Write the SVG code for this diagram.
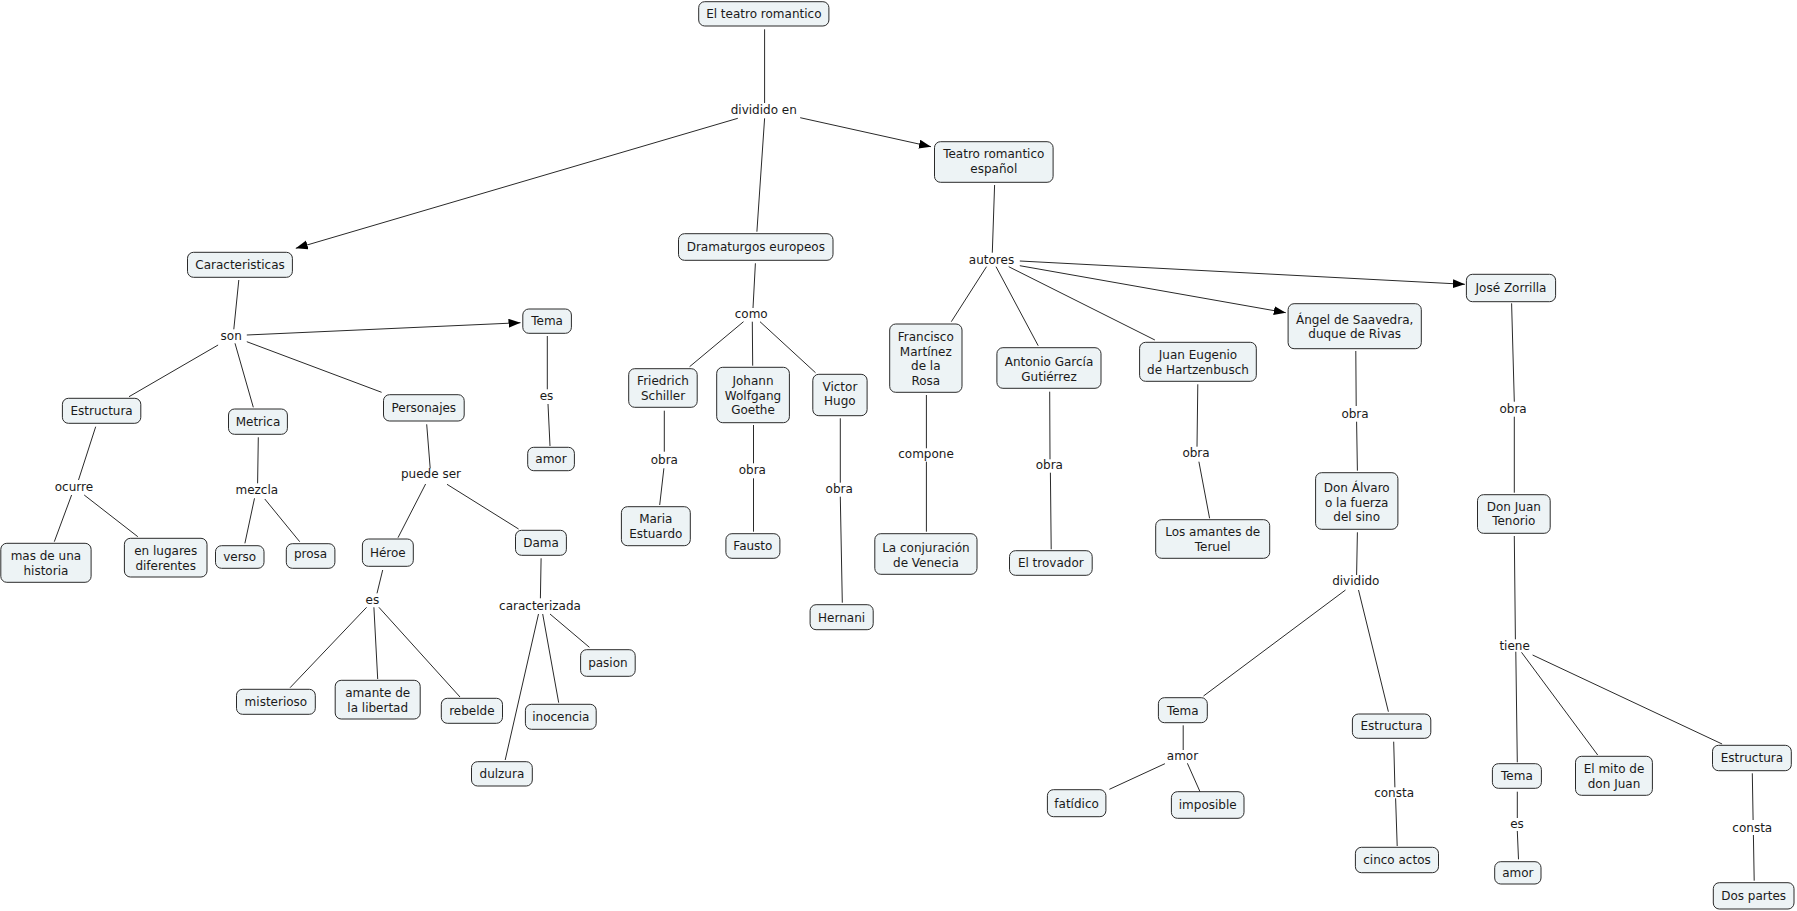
<svg xmlns="http://www.w3.org/2000/svg" width="1797" height="911" viewBox="0 0 1797 911">
<style>
.n rect{fill:#EDF3F5;stroke:#2a2a2a;stroke-width:1}
text{font-family:"DejaVu Sans","Liberation Sans",sans-serif;font-size:12px;fill:#1a1a1a;text-anchor:middle}
.c line{stroke:#2a2a2a;stroke-width:1}
</style>
<defs>
<marker id="ah" markerUnits="userSpaceOnUse" markerWidth="13" markerHeight="10" refX="12" refY="4.5" orient="auto"><path d="M0,0 L12,4.5 L0,9 z" fill="#000"/></marker>
</defs>
<rect width="1797" height="911" fill="#fff"/>
<g class="c" id="connectors">
<line x1="764.6" y1="29.3" x2="764.6" y2="103"/>
<line x1="737.8" y1="118.3" x2="295.8" y2="248.3" marker-end="url(#ah)"/>
<line x1="764.6" y1="118.3" x2="756.9" y2="231.7"/>
<line x1="800.2" y1="117.7" x2="931" y2="146.7" marker-end="url(#ah)"/>
<line x1="994.6" y1="185" x2="992.3" y2="252.7"/>
<line x1="1019.8" y1="261" x2="1464.9" y2="284.3" marker-end="url(#ah)"/>
<line x1="1019.8" y1="265.7" x2="1285.8" y2="312.7" marker-end="url(#ah)"/>
<line x1="986.5" y1="266.7" x2="951.3" y2="321.7"/>
<line x1="996" y1="266.7" x2="1038.2" y2="345.7"/>
<line x1="1008.7" y1="266.7" x2="1154.9" y2="340"/>
<line x1="238.8" y1="280" x2="233.8" y2="329.3"/>
<line x1="246.8" y1="335" x2="520.5" y2="322.7" marker-end="url(#ah)"/>
<line x1="218.1" y1="345" x2="129" y2="396.7"/>
<line x1="235" y1="343.3" x2="253.3" y2="407.3"/>
<line x1="246.8" y1="341.7" x2="381.6" y2="392.3"/>
<line x1="547.3" y1="336" x2="547.3" y2="389.3"/>
<line x1="548" y1="404" x2="550" y2="446"/>
<line x1="95.7" y1="426.7" x2="78.5" y2="480"/>
<line x1="71.6" y1="495" x2="54.3" y2="541.7"/>
<line x1="84.2" y1="495" x2="137.8" y2="536.7"/>
<line x1="258.3" y1="437.3" x2="257.6" y2="483.3"/>
<line x1="254.5" y1="498.3" x2="244.9" y2="543.3"/>
<line x1="264.8" y1="499" x2="299.7" y2="541.7"/>
<line x1="426.7" y1="424.3" x2="430.2" y2="468.3"/>
<line x1="425.6" y1="484" x2="398" y2="537.7"/>
<line x1="447" y1="484.3" x2="518.6" y2="529"/>
<line x1="382.7" y1="570" x2="377" y2="593.3"/>
<line x1="366.6" y1="607.3" x2="290.1" y2="687.7"/>
<line x1="373.9" y1="607.3" x2="377.7" y2="679"/>
<line x1="378.9" y1="607.3" x2="460" y2="697"/>
<line x1="541.1" y1="558.3" x2="540.4" y2="598.3"/>
<line x1="538.5" y1="614" x2="505.2" y2="760"/>
<line x1="542.7" y1="614" x2="558.7" y2="702.7"/>
<line x1="550" y1="614" x2="589.4" y2="647.3"/>
<line x1="755.4" y1="263.3" x2="753" y2="308"/>
<line x1="743.5" y1="321.7" x2="689.6" y2="366.7"/>
<line x1="752.3" y1="321.7" x2="752.7" y2="365.7"/>
<line x1="760" y1="321.7" x2="815.5" y2="372.7"/>
<line x1="664.3" y1="410.7" x2="664.3" y2="451.7"/>
<line x1="663.9" y1="468.3" x2="659.7" y2="505"/>
<line x1="753.5" y1="425" x2="753.5" y2="463.3"/>
<line x1="753.5" y1="478.3" x2="753.5" y2="531.7"/>
<line x1="840.3" y1="418.3" x2="840.3" y2="482.7"/>
<line x1="840.3" y1="496.7" x2="842.3" y2="602.7"/>
<line x1="926.4" y1="395" x2="926.4" y2="448.3"/>
<line x1="926.4" y1="461.7" x2="926.4" y2="531.7"/>
<line x1="1049.7" y1="391.7" x2="1050" y2="459.3"/>
<line x1="1050.4" y1="472.7" x2="1051.2" y2="549.3"/>
<line x1="1197.8" y1="384.3" x2="1197" y2="446.7"/>
<line x1="1198.9" y1="461.7" x2="1209.6" y2="518.3"/>
<line x1="1355.8" y1="351" x2="1356.2" y2="406"/>
<line x1="1356.6" y1="421.7" x2="1357.4" y2="470.7"/>
<line x1="1357.4" y1="532.3" x2="1356.6" y2="575"/>
<line x1="1345.5" y1="590" x2="1203.5" y2="696"/>
<line x1="1358.5" y1="590" x2="1388.4" y2="711.7"/>
<line x1="1183.2" y1="725.3" x2="1183.2" y2="750"/>
<line x1="1164.9" y1="763.7" x2="1109.4" y2="789.3"/>
<line x1="1187.4" y1="763.3" x2="1200" y2="791.7"/>
<line x1="1393.7" y1="741.7" x2="1394.9" y2="787.3"/>
<line x1="1395.6" y1="798.3" x2="1397.2" y2="846"/>
<line x1="1511.6" y1="303.3" x2="1514.3" y2="401.7"/>
<line x1="1514.3" y1="416.7" x2="1514.3" y2="492.7"/>
<line x1="1514.3" y1="536" x2="1515.4" y2="639.3"/>
<line x1="1515.8" y1="651.7" x2="1517.3" y2="762.3"/>
<line x1="1521.5" y1="652.3" x2="1597.7" y2="755"/>
<line x1="1532.6" y1="655" x2="1722.1" y2="744"/>
<line x1="1517.3" y1="791.7" x2="1517.3" y2="818"/>
<line x1="1517.3" y1="831" x2="1518.5" y2="859.3"/>
<line x1="1752.3" y1="773.3" x2="1753.1" y2="820"/>
<line x1="1753.4" y1="835" x2="1754.2" y2="880.7"/>
</g>
<g id="labels">
<text x="763.8" y="114.3">dividido en</text>
<text x="231.2" y="340">son</text>
<text x="546.5" y="400">es</text>
<text x="73.9" y="491">ocurre</text>
<text x="256.8" y="494.3">mezcla</text>
<text x="431" y="478.3">puede ser</text>
<text x="372.4" y="604.3">es</text>
<text x="540" y="609.6">caracterizada</text>
<text x="751.2" y="318.3">como</text>
<text x="664.3" y="464.3">obra</text>
<text x="752.3" y="474.3">obra</text>
<text x="839.2" y="493.3">obra</text>
<text x="991.5" y="263.6">autores</text>
<text x="926" y="458.3">compone</text>
<text x="1049.3" y="469.3">obra</text>
<text x="1196" y="457.3">obra</text>
<text x="1355" y="417.6">obra</text>
<text x="1355.8" y="585.3">dividido</text>
<text x="1182.5" y="760">amor</text>
<text x="1394.1" y="797">consta</text>
<text x="1513.1" y="413.3">obra</text>
<text x="1514.6" y="650">tiene</text>
<text x="1517" y="828.3">es</text>
<text x="1752.3" y="832">consta</text>
</g>
<g class="n" id="n1"><rect x="698.7" y="1.7" width="130.2" height="24.3" rx="6"/><text x="763.8" y="18.2">El teatro romantico</text></g>
<g class="n" id="n2"><rect x="934.5" y="141.7" width="118.6" height="40.6" rx="6"/><text x="993.8" y="158.3">Teatro romantico</text><text x="993.8" y="172.6">español</text></g>
<g class="n" id="n3"><rect x="187.5" y="252.3" width="104.9" height="25" rx="6"/><text x="240" y="269.1">Caracteristicas</text></g>
<g class="n" id="n4"><rect x="678.5" y="233.7" width="154.5" height="26.6" rx="6"/><text x="755.8" y="251.3">Dramaturgos europeos</text></g>
<g class="n" id="n5"><rect x="1466.4" y="274.3" width="89.2" height="27.4" rx="6"/><text x="1511" y="292.3">José Zorrilla</text></g>
<g class="n" id="n6"><rect x="1288.1" y="303.7" width="133.2" height="45" rx="6"/><text x="1354.7" y="324.3">Ángel de Saavedra,</text><text x="1354.7" y="338.3">duque de Rivas</text></g>
<g class="n" id="n7"><rect x="522.8" y="309" width="48.6" height="24.3" rx="6"/><text x="547.1" y="325.4">Tema</text></g>
<g class="n" id="n8"><rect x="527.7" y="447.3" width="46.7" height="23.4" rx="6"/><text x="551" y="463.3">amor</text></g>
<g class="n" id="n9"><rect x="62.4" y="398.3" width="78.4" height="25" rx="6"/><text x="101.6" y="415.1">Estructura</text></g>
<g class="n" id="n10"><rect x="228.5" y="409" width="58.9" height="25.3" rx="6"/><text x="258" y="426">Metrica</text></g>
<g class="n" id="n11"><rect x="383.5" y="394.7" width="80.7" height="26.3" rx="6"/><text x="423.8" y="412">Personajes</text></g>
<g class="n" id="n12"><rect x="0.8" y="543.3" width="90.3" height="39" rx="6"/><text x="45.9" y="560.3">mas de una</text><text x="45.9" y="575">historia</text></g>
<g class="n" id="n13"><rect x="124.4" y="538.3" width="82.6" height="38.7" rx="6"/><text x="165.7" y="555">en lugares</text><text x="165.7" y="570">diferentes</text></g>
<g class="n" id="n14"><rect x="215.5" y="545.7" width="48.5" height="22.6" rx="6"/><text x="239.7" y="561.3">verso</text></g>
<g class="n" id="n15"><rect x="286.3" y="543.7" width="48.6" height="24.6" rx="6"/><text x="310.6" y="558.3">prosa</text></g>
<g class="n" id="n16"><rect x="362.4" y="539" width="50.9" height="27.3" rx="6"/><text x="387.8" y="557">Héroe</text></g>
<g class="n" id="n17"><rect x="515.5" y="530.3" width="50.9" height="25" rx="6"/><text x="541" y="547.1">Dama</text></g>
<g class="n" id="n18"><rect x="236.5" y="689.3" width="78.8" height="25" rx="6"/><text x="275.9" y="706.1">misterioso</text></g>
<g class="n" id="n19"><rect x="335.2" y="680.3" width="85" height="38.7" rx="6"/><text x="377.7" y="697">amante de</text><text x="377.7" y="711.6">la libertad</text></g>
<g class="n" id="n20"><rect x="441.3" y="698.3" width="61.2" height="25" rx="6"/><text x="471.9" y="715.1">rebelde</text></g>
<g class="n" id="n21"><rect x="580.6" y="649.7" width="54.6" height="26.6" rx="6"/><text x="607.9" y="667.3">pasion</text></g>
<g class="n" id="n22"><rect x="525.4" y="704.3" width="70.8" height="25" rx="6"/><text x="560.8" y="721.1">inocencia</text></g>
<g class="n" id="n23"><rect x="471.5" y="761.7" width="60.8" height="24.3" rx="6"/><text x="501.9" y="778.1">dulzura</text></g>
<g class="n" id="n24"><rect x="628.7" y="368.7" width="68.5" height="38.6" rx="6"/><text x="663" y="385.3">Friedrich</text><text x="663" y="400">Schiller</text></g>
<g class="n" id="n25"><rect x="716.7" y="367.3" width="72.7" height="55.4" rx="6"/><text x="753" y="385.3">Johann</text><text x="753" y="400">Wolfgang</text><text x="753" y="414.3">Goethe</text></g>
<g class="n" id="n26"><rect x="812.8" y="374.3" width="54.3" height="41.4" rx="6"/><text x="839.9" y="391">Victor</text><text x="839.9" y="405.3">Hugo</text></g>
<g class="n" id="n27"><rect x="621.4" y="506.7" width="68.9" height="39" rx="6"/><text x="655.8" y="523.3">Maria</text><text x="655.8" y="537.6">Estuardo</text></g>
<g class="n" id="n28"><rect x="725.9" y="533.7" width="54" height="24.6" rx="6"/><text x="752.9" y="550.3">Fausto</text></g>
<g class="n" id="n29"><rect x="810.1" y="604.7" width="63.1" height="25" rx="6"/><text x="841.6" y="621.5">Hernani</text></g>
<g class="n" id="n30"><rect x="889.7" y="324" width="72.3" height="68.3" rx="6"/><text x="925.8" y="341">Francisco</text><text x="925.8" y="355.6">Martínez</text><text x="925.8" y="370">de la</text><text x="925.8" y="384.6">Rosa</text></g>
<g class="n" id="n31"><rect x="996.9" y="347.7" width="104.1" height="40.6" rx="6"/><text x="1049" y="366">Antonio García</text><text x="1049" y="380.6">Gutiérrez</text></g>
<g class="n" id="n32"><rect x="1139.6" y="342.3" width="116.7" height="39" rx="6"/><text x="1198" y="359.3">Juan Eugenio</text><text x="1198" y="374">de Hartzenbusch</text></g>
<g class="n" id="n33"><rect x="874.8" y="533.7" width="102.2" height="40.6" rx="6"/><text x="925.9" y="552">La conjuración</text><text x="925.9" y="566.6">de Venecia</text></g>
<g class="n" id="n34"><rect x="1009.5" y="550.7" width="82.7" height="24.6" rx="6"/><text x="1050.8" y="567.3">El trovador</text></g>
<g class="n" id="n35"><rect x="1155.7" y="519.7" width="114" height="38.6" rx="6"/><text x="1212.7" y="536">Los amantes de</text><text x="1212.7" y="551">Teruel</text></g>
<g class="n" id="n36"><rect x="1315.6" y="472.7" width="82.3" height="56.6" rx="6"/><text x="1356.7" y="492">Don Álvaro</text><text x="1356.7" y="506.6">o la fuerza</text><text x="1356.7" y="521">del sino</text></g>
<g class="n" id="n37"><rect x="1158.4" y="697.7" width="48.9" height="25" rx="6"/><text x="1182.8" y="714.5">Tema</text></g>
<g class="n" id="n38"><rect x="1047.4" y="789.7" width="58.5" height="27" rx="6"/><text x="1076.6" y="807.5">fatídico</text></g>
<g class="n" id="n39"><rect x="1171.4" y="791.7" width="72.6" height="26.6" rx="6"/><text x="1207.7" y="809.3">imposible</text></g>
<g class="n" id="n40"><rect x="1352.4" y="714" width="78.4" height="24.3" rx="6"/><text x="1391.6" y="730.4">Estructura</text></g>
<g class="n" id="n41"><rect x="1355.4" y="847.3" width="83.1" height="25.4" rx="6"/><text x="1397" y="864.3">cinco actos</text></g>
<g class="n" id="n42"><rect x="1477.5" y="494.7" width="72.7" height="38.6" rx="6"/><text x="1513.8" y="511">Don Juan</text><text x="1513.8" y="525.3">Tenorio</text></g>
<g class="n" id="n43"><rect x="1492.4" y="763.7" width="49" height="24.6" rx="6"/><text x="1516.9" y="780.3">Tema</text></g>
<g class="n" id="n44"><rect x="1575.5" y="756.3" width="76.9" height="39" rx="6"/><text x="1614" y="773.3">El mito de</text><text x="1614" y="787.6">don Juan</text></g>
<g class="n" id="n45"><rect x="1712.5" y="745.3" width="78.8" height="25.4" rx="6"/><text x="1751.9" y="762.3">Estructura</text></g>
<g class="n" id="n46"><rect x="1494.7" y="861.7" width="46.3" height="22.3" rx="6"/><text x="1517.8" y="877.2">amor</text></g>
<g class="n" id="n47"><rect x="1713.3" y="882.7" width="80.7" height="26.3" rx="6"/><text x="1753.6" y="900">Dos partes</text></g>
</svg>
